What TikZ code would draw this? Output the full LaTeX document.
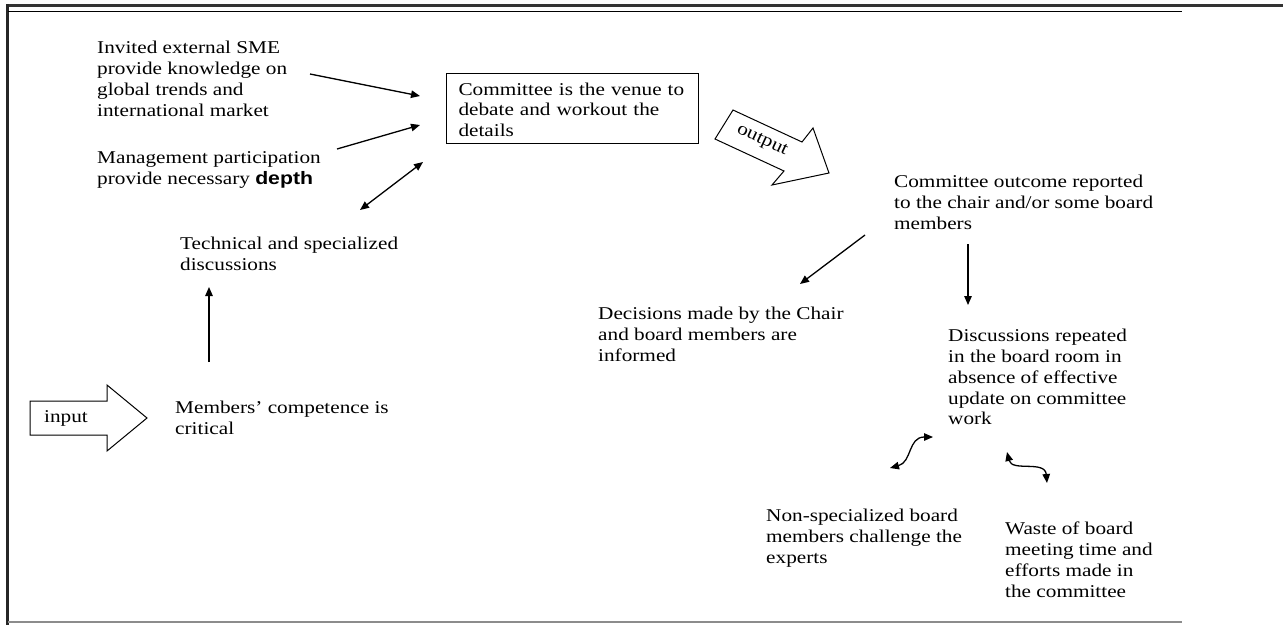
\documentclass[tikz,border=0pt]{standalone}
\usepackage{fontspec}
\setmainfont{Liberation Serif}[FakeStretch=1.18]
\newfontfamily\sansbf{Liberation Sans}[FakeStretch=1.18]
\usetikzlibrary{arrows.meta}
\begin{document}
\begin{tikzpicture}[x=1pt,y=-1pt,
  txt/.style={anchor=north west, inner sep=0pt, align=left, font=\fontsize{18}{20.8}\selectfont},
  arr/.style={line width=1.3pt, -{Triangle[length=9pt,width=7.5pt]}},
  dbl/.style={line width=1.3pt, {Triangle[length=9pt,width=7.5pt]}-{Triangle[length=9pt,width=7.5pt]}},
  blk/.style={draw, line width=1pt, fill=white, line join=miter},
  lbl/.style={inner sep=0pt, font=\fontsize{18}{20.8}\selectfont}]
\useasboundingbox (0,0) rectangle (1283,625);
% frame
\draw[line width=3pt, color=black!80] (6,5) -- (1283,5);
\draw[line width=3pt, color=black!85] (7,4) -- (7,625);
\draw[line width=1.5pt] (8,11.5) -- (1182,11.5);
\draw[line width=1.5pt, color=black!45] (8,622) -- (1182,622);

% text blocks
\node[txt] (sme) at (97,39) {\strut Invited external SME\\provide knowledge on\\global trends and\\international market};
\node[txt] (mgmt) at (97,149) {\strut Management participation\\provide necessary {\sansbf\bfseries depth}};
\node[txt] (tech) at (180,235) {\strut Technical and specialized\\discussions};
\node[txt] (memb) at (175,399) {\strut Members’ competence is\\critical};
\node[txt, draw, line width=1pt, inner xsep=12pt, inner ysep=7pt, text width=228pt] (venue) at (446,73)
  {\strut Committee is the venue to\\debate and workout the\\details};
\node[txt] (outcome) at (894,173) {\strut Committee outcome reported\\to the chair and/or some board\\members};
\node[txt] (decis) at (598,305) {\strut Decisions made by the Chair\\and board members are\\informed};
\node[txt] (repeat) at (948,327) {\strut Discussions repeated\\in the board room in\\absence of effective\\update on committee\\work};
\node[txt] (nonspec) at (766,507) {\strut Non-specialized board\\members challenge the\\experts};
\node[txt] (waste) at (1005,520) {\strut Waste of board\\meeting time and\\efforts made in\\the committee};

% block arrows
\draw[blk] (30,401) -- (107,401) -- (107,385) -- (147,418) -- (107,451) -- (107,435) -- (30,435) -- cycle;
\node[lbl] (inlbl) at (66,418) {input};
\begin{scope}[xshift=-15pt]
\draw[blk] (748,110) -- (817,142) -- (828,128) -- (844,173) -- (787,185) -- (799,171) -- (730,139) -- cycle;
\node[lbl, rotate=-25] (outlbl) at (777,141) {output};
\end{scope}

% connector end points
\coordinate (a1s) at (310,74);   \coordinate (a1e) at (420,96);
\coordinate (a2s) at (337,149);  \coordinate (a2e) at (420,125);
\coordinate (a3s) at (360,210);  \coordinate (a3e) at (423,162);
\coordinate (a4s) at (209,362);  \coordinate (a4e) at (209,287);
\coordinate (a5s) at (865,235);  \coordinate (a5e) at (800,284);
\coordinate (a6s) at (968,244);  \coordinate (a6e) at (968,305);
\coordinate (c1s) at (890,468);  \coordinate (c1e) at (933,437);
\coordinate (c2s) at (1007,452); \coordinate (c2e) at (1047,483);

\draw[arr] (a1s) -- (a1e);
\draw[arr] (a2s) -- (a2e);
\draw[dbl] (a3s) -- (a3e);
\draw[arr] (a4s) -- (a4e);
\draw[arr] (a5s) -- (a5e);
\draw[arr] (a6s) -- (a6e);
\draw[dbl] (c1s) .. controls (912,462) and (908,437) .. (c1e);
\draw[dbl] (c2s) .. controls (1012,472) and (1045,460) .. (c2e);
\end{tikzpicture}
\end{document}
